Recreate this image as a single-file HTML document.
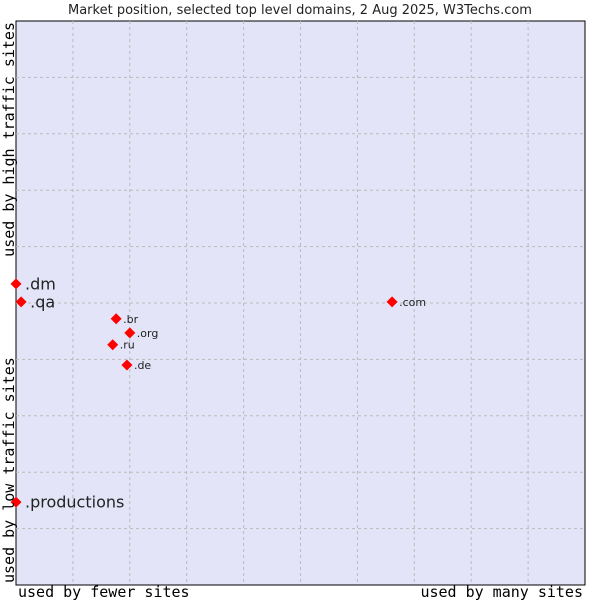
<!DOCTYPE html>
<html><head><meta charset="utf-8"><style>
body{margin:0;background:#fff;}
svg{display:block;font-family:"DejaVu Sans","Liberation Sans",sans-serif;}
</style></head><body>
<svg id="chart" width="600" height="600" viewBox="0 0 600 600">
<text x="300" y="14" text-anchor="middle" font-size="13" fill="#222">Market position, selected top level domains, 2 Aug 2025, W3Techs.com</text>
<rect x="16" y="21" width="569" height="564" fill="#e3e4f8" stroke="#000" stroke-width="1"/>
<g id="grid"></g>
<g id="points"></g>
<text x="18" y="597" font-family="DejaVu Sans Mono,monospace" font-size="15" fill="#000">used by fewer sites</text>
<text x="583" y="597" text-anchor="end" font-family="DejaVu Sans Mono,monospace" font-size="15" fill="#000">used by many sites</text>
<text transform="translate(14,22) rotate(-90)" text-anchor="end" font-family="DejaVu Sans Mono,monospace" font-size="15" fill="#000">used by high traffic sites</text>
<text transform="translate(14,583) rotate(-90)" font-family="DejaVu Sans Mono,monospace" font-size="15" fill="#000">used by low traffic sites</text>
</svg>
<script>
const domains = [".dm", ".qa", ".productions", ".br", ".org", ".ru", ".de", ".com"];
const usage = [0, 0.9, 0, 17.6, 20.0, 17.0, 19.5, 66.1];
const traffic = [53.4, 50.2, 14.7, 47.2, 44.7, 42.6, 39.0, 50.2];
const bigLabel = [true, true, true, false, false, false, false, false];
const X0=16, X1=585, Y0=585, Y1=21;
function xs(v){return X0+(X1-X0)*v/100;}
function ys(v){return Y0-(Y0-Y1)*v/100;}
const NS="http://www.w3.org/2000/svg";
const grid=document.getElementById('grid');
for(let i=1;i<10;i++){
  const lx=document.createElementNS(NS,'line');
  
  
  lx.setAttribute('x1',xs(i*10));lx.setAttribute('x2',xs(i*10));
  lx.setAttribute('y1',Y1);lx.setAttribute('y2',Y0);
  lx.setAttribute('stroke','#bbb');lx.setAttribute('stroke-dasharray','3,3');
  grid.appendChild(lx);
  const ly=document.createElementNS(NS,'line');
  
  
  ly.setAttribute('y1',ys(i*10));ly.setAttribute('y2',ys(i*10));
  ly.setAttribute('x1',X0);ly.setAttribute('x2',X1);
  ly.setAttribute('stroke','#bbb');ly.setAttribute('stroke-dasharray','3,3');
  grid.appendChild(ly);
}
const pts=document.getElementById('points');
domains.forEach((d,i)=>{
  const x=xs(usage[i]), y=ys(traffic[i]);
  const p=document.createElementNS(NS,'path');
  
  
  p.setAttribute('d',`M${x-5.5},${y} L${x},${y-5.5} L${x+5.5},${y} L${x},${y+5.5} Z`);
  p.setAttribute('fill','#f00');
  pts.appendChild(p);
  const t=document.createElementNS(NS,'text');
  
  
  t.setAttribute('x',x+(bigLabel[i]?9:7));
  t.setAttribute('y',y+(bigLabel[i]?5.5:4));
  t.setAttribute('font-size',bigLabel[i]?16:11);
  t.setAttribute('fill','#222');
  t.textContent=d;
  pts.appendChild(t);
});
</script>
</body></html>
